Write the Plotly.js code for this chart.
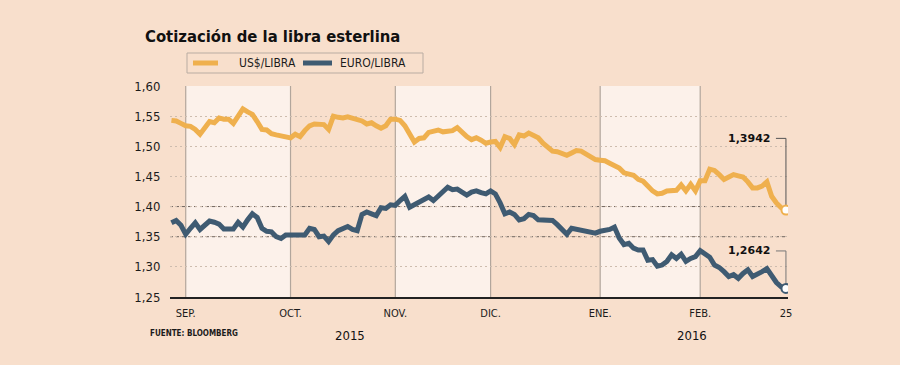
<!DOCTYPE html>
<html>
<head>
<meta charset="utf-8">
<script src="https://cdn.plot.ly/plotly-3.0.1.min.js"></script>
<style>
html,body{margin:0;padding:0;background:#f8dfcc;}
#chart{width:900px;height:365px;}
</style>
</head>
<body>
<div id="chart"></div>
<script>
// ---- Data ----
const firstDay = '2015-08-27';
const lastDay = '2016-02-25';
const closedDays = ['2015-11-26'];
const usdGbp = [1.543,1.542,1.538,1.534,1.533,1.528,1.520,1.531,1.541,1.539,
1.547,1.545,1.545,1.538,1.551,1.562,1.557,1.553,1.541,1.528,
1.527,1.521,1.519,1.517,1.516,1.514,1.520,1.516,1.526,1.534,
1.537,1.536,1.536,1.528,1.550,1.548,1.547,1.549,1.547,1.545,
1.542,1.537,1.539,1.534,1.530,1.534,1.545,1.545,1.543,1.534,
1.519,1.507,1.513,1.514,1.523,1.526,1.527,1.524,1.524,1.526,
1.531,1.523,1.516,1.511,1.514,1.510,1.505,1.507,1.508,1.498,
1.516,1.513,1.503,1.519,1.517,1.522,1.517,1.514,1.505,1.499,
1.492,1.491,1.489,1.485,1.489,1.493,1.492,1.487,1.484,1.478,
1.477,1.476,1.472,1.467,1.464,1.456,1.453,1.452,1.445,1.442,
1.434,1.426,1.421,1.422,1.426,1.427,1.427,1.436,1.426,1.437,
1.426,1.443,1.443,1.462,1.460,1.453,1.445,1.449,1.453,1.451,
1.449,1.441,1.431,1.431,1.434,1.441,1.417,1.406,1.398,1.3942];
const eurGbp = [1.373,1.377,1.369,1.354,1.364,1.373,1.362,1.368,1.376,1.374,
1.371,1.363,1.363,1.363,1.374,1.366,1.378,1.388,1.382,1.364,
1.359,1.358,1.350,1.347,1.353,1.353,1.354,1.354,1.353,1.364,
1.362,1.350,1.351,1.342,1.353,1.360,1.363,1.367,1.362,1.360,
1.387,1.391,1.388,1.385,1.398,1.397,1.403,1.402,1.410,1.417,
1.399,1.403,1.408,1.412,1.416,1.410,1.417,1.424,1.432,1.428,
1.429,1.424,1.419,1.424,1.426,1.423,1.421,1.426,1.421,1.406,
1.388,1.391,1.387,1.378,1.380,1.387,1.385,1.378,1.377,1.377,
1.377,1.370,1.362,1.354,1.364,1.362,1.362,1.359,1.358,1.356,
1.359,1.360,1.362,1.366,1.348,1.337,1.339,1.331,1.328,1.328,
1.311,1.312,1.301,1.303,1.309,1.320,1.314,1.321,1.309,1.314,
1.317,1.327,1.321,1.316,1.303,1.299,1.292,1.284,1.287,1.281,
1.289,1.295,1.284,1.287,1.292,1.297,1.284,1.274,1.267,1.2642];
const tickDates = ['2015-09-01','2015-10-01','2015-11-02','2015-12-01','2016-01-01','2016-02-01','2016-02-25'];
const tickLabels = ['SEP.','OCT.','NOV.','DIC.','ENE.','FEB.','25'];
const seriesNames = ['US$/LIBRA','EURO/LIBRA'];
const yearLabels = ['2015','2016'];
const lastLabels = ['1,3942','1,2642'];

// ---- trading days (categories) ----
const dates = [];
(function(){
  const d = new Date(firstDay + 'T12:00:00Z');
  const end = new Date(lastDay + 'T12:00:00Z');
  while (d <= end) {
    const wd = d.getUTCDay();
    const s = d.toISOString().slice(0,10);
    if (wd !== 0 && wd !== 6 && closedDays.indexOf(s) < 0) dates.push(s);
    d.setUTCDate(d.getUTCDate() + 1);
  }
})();

const GOLD = '#efb04e', BLUE = '#3f5b72';
const BG = '#f8dfcc', BAND = '#fcf1ea';
const FONT = 'DejaVu Sans Condensed, DejaVu Sans, sans-serif';
const TXT = '#1b1b1b';

// plot area in pixels: x 170..788, y 86..297
const L = 170, R = 788, T = 86, B = 297;
const px = p => (p - L) / (R - L);
const py = p => (B - p) / (B - T);
const idx = s => dates.indexOf(s);
const n = dates.length - 1;

const shapes = [];
// month bands
[[0,1],[2,3],[4,5]].forEach(([a,b]) => {
  shapes.push({type:'rect', xref:'x', yref:'paper', x0: idx(tickDates[a]), x1: idx(tickDates[b]),
    y0:0, y1:1, fillcolor: BAND, line:{width:0}, layer:'below'});
});
// month lines
tickDates.slice(0,6).forEach(t => {
  shapes.push({type:'line', xref:'x', yref:'paper', x0: idx(t), x1: idx(t), y0:0, y1:1,
    line:{color:'#b2a69c', width:1.2}, layer:'below'});
});
// darker reference grid lines
[1.35, 1.40].forEach(v => {
  shapes.push({type:'line', xref:'paper', yref:'y', x0:0, x1:1, y0:v, y1:v,
    line:{color:'#6f655e', width:1, dash:'3px,3px'}, layer:'between'});
});
// leader lines for last values
const leaderY = [1.5131, 1.3264];
const lastVals = [usdGbp[n], eurGbp[n]];
[0,1].forEach(k => {
  shapes.push({type:'path', xref:'x', yref:'y',
    path: 'M ' + (n - 2.1) + ',' + leaderY[k] + ' L ' + n + ',' + leaderY[k] + ' L ' + n + ',' + lastVals[k],
    line:{color: k === 0 ? '#555' : '#777', width:1}, layer:'between'});
});
// legend box
shapes.push({type:'rect', xref:'paper', yref:'paper', x0: px(187), x1: px(423), y0: py(53), y1: py(73),
  line:{color:'#b9aca2', width:1}, fillcolor:'rgba(0,0,0,0)'});
shapes.push({type:'line', xref:'paper', yref:'paper', x0: px(193), x1: px(218), y0: py(63), y1: py(63),
  line:{color: GOLD, width:5}});
shapes.push({type:'line', xref:'paper', yref:'paper', x0: px(303), x1: px(332), y0: py(63), y1: py(63),
  line:{color: BLUE, width:5}});

const annotations = [
  {xref:'paper', yref:'paper', x: px(237), y: py(63.5), xanchor:'left', yanchor:'middle', showarrow:false,
    text: seriesNames[0], font:{family:FONT, size:12, color:TXT}},
  {xref:'paper', yref:'paper', x: px(338), y: py(63.5), xanchor:'left', yanchor:'middle', showarrow:false,
    text: seriesNames[1], font:{family:FONT, size:12, color:TXT}},
  {xref:'paper', yref:'paper', x: px(350), y: py(335), xanchor:'center', yanchor:'middle', showarrow:false,
    text: yearLabels[0], font:{family:FONT, size:13, color:'#111'}},
  {xref:'paper', yref:'paper', x: px(692), y: py(335), xanchor:'center', yanchor:'middle', showarrow:false,
    text: yearLabels[1], font:{family:FONT, size:13, color:'#111'}},
  {xref:'paper', yref:'paper', x: px(148), y: py(333.5), xanchor:'left', yanchor:'middle', showarrow:false,
    text: '<b>FUENTE: BLOOMBERG</b>', font:{family:FONT, size:8, color:TXT}},
];
[0,1].forEach(k => {
  annotations.push({xref:'x', yref:'y', x: n, y: leaderY[k], xanchor:'right', yanchor:'middle',
    xshift:-14, showarrow:false, text:'<b>' + lastLabels[k] + '</b>',
    font:{family:'DejaVu Sans, sans-serif', size:11, color:'#111'}});
});

const traces = [
  {x: dates, y: usdGbp, type:'scatter', mode:'lines', name: seriesNames[0],
    line:{color: GOLD, width:5, shape:'linear'}, hoverinfo:'x+y'},
  {x: dates, y: eurGbp, type:'scatter', mode:'lines', name: seriesNames[1],
    line:{color: BLUE, width:5}, hoverinfo:'x+y'},
  {x: [dates[n]], y: [usdGbp[n]], type:'scatter', mode:'markers', showlegend:false,
    marker:{size:9, color:'#fff', line:{color: GOLD, width:2}}, hoverinfo:'skip'},
  {x: [dates[n]], y: [eurGbp[n]], type:'scatter', mode:'markers', showlegend:false,
    marker:{size:9, color:'#fff', line:{color: BLUE, width:2}}, hoverinfo:'skip'},
];

const layout = {
  width: 900, height: 365,
  paper_bgcolor: BG, plot_bgcolor: BG,
  margin: {l: L, r: 900 - R, t: T, b: 365 - B, pad: 0},
  separators: ',.',
  showlegend: false,
  title: {text: '<b>Cotización de la libra esterlina</b>', x: 145/900, xref:'container', xanchor:'left',
    y: 1 - 36.5/365, yref:'container', yanchor:'middle',
    font:{family: FONT, size: 16.5, color: '#111'}},
  xaxis: {type:'category', range: [-0.3, n + 0.43], autorange:false,
    tickmode:'array', tickvals: tickDates, ticktext: tickLabels,
    showgrid:false, zeroline:false, showline:true, linecolor:'#222', linewidth:1.5,
    ticks:'outside', ticklen:5, tickcolor:'rgba(0,0,0,0)',
    tickfont:{family:FONT, size:11, color:TXT}, fixedrange:true},
  yaxis: {range:[1.25, 1.60], autorange:false, dtick:0.05, tick0:1.25, tickformat:'.2f',
    showgrid:true, gridcolor:'#cdbcae', gridwidth:1, griddash:'2px,3px',
    zeroline:false, showline:false,
    ticks:'outside', ticklen:6, tickcolor:'rgba(0,0,0,0)',
    tickfont:{family:FONT, size:13, color:TXT}, fixedrange:true},
  shapes: shapes,
  annotations: annotations,
};

Plotly.newPlot('chart', traces, layout, {displayModeBar:false, staticPlot:true});
</script>
</body>
</html>
